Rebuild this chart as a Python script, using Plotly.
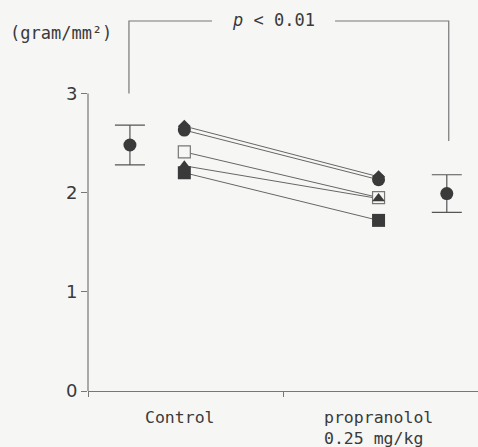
import plotly.graph_objects as go

# ---- data ----
groups = ["Control", "propranolol<br>0.25 mg/kg"]
group_x = [0.47, 1.49]          # category label positions
indiv_x = [0.494, 1.49]         # individual animals
mean_x = [0.215, 1.84]          # group means

subjects = {
    "diamond":     [2.67, 2.16],
    "circle":      [2.63, 2.13],
    "square-open": [2.41, 1.95],
    "triangle-up": [2.27, 1.94],
    "square":      [2.20, 1.72],
}
means = [2.48, 1.99]
sds = [0.20, 0.19]

y_ticks = [0, 1, 2, 3]
y_unit = "(gram/mm²)"
p_text = "<i>p</i> < 0.01"

# bracket geometry (data units)
br_left_x, br_right_x = 0.21, 1.85
br_top = 3.73
br_left_bottom, br_right_bottom = 3.0, 2.52
br_gap = (0.636, 1.267)

ink = "#3a3a3a"
line_col = "#666666"
bg = "#f6f6f4"
font_fam = "DejaVu Sans Mono"

fig = go.Figure()

# individual lines
for sym, vals in subjects.items():
    fig.add_trace(go.Scatter(
        x=indiv_x, y=vals, mode="lines",
        line=dict(color=line_col, width=1), showlegend=False, hoverinfo="skip"))

# individual markers
for sym, vals in subjects.items():
    if sym == "square-open":
        mk = dict(symbol="square", size=12, color=bg,
                  line=dict(color="#777777", width=1.2))
    elif sym == "triangle-up":
        mk = dict(symbol="triangle-up", size=11, color=ink, line=dict(width=0))
    elif sym == "diamond":
        mk = dict(symbol="diamond", size=10, color=ink, line=dict(width=0))
    else:
        mk = dict(symbol=sym, size=13, color=ink, line=dict(width=0))
    fig.add_trace(go.Scatter(
        x=indiv_x, y=vals, mode="markers", marker=mk,
        showlegend=False, hoverinfo="skip", cliponaxis=False))

# means with SD
fig.add_trace(go.Scatter(
    x=mean_x, y=means, mode="markers",
    marker=dict(symbol="circle", size=13, color=ink),
    error_y=dict(type="data", array=sds, visible=True, color="#555555",
                 thickness=1.2, width=15),
    showlegend=False, hoverinfo="skip"))

# significance bracket
fig.add_trace(go.Scatter(
    x=[br_left_x, br_left_x, br_gap[0], None, br_gap[1], br_right_x, br_right_x],
    y=[br_left_bottom, br_top, br_top, None, br_top, br_top, br_right_bottom],
    mode="lines", line=dict(color="#777777", width=1.2),
    showlegend=False, hoverinfo="skip"))

fig.add_annotation(x=(br_gap[0] + br_gap[1]) / 2, y=br_top, text=p_text,
                   showarrow=False, yanchor="middle", yshift=1,
                   font=dict(family=font_fam, size=17, color=ink))

# y-axis line only up to the top tick
fig.add_shape(type="line", xref="paper", yref="y", x0=0, x1=0,
              y0=0, y1=max(y_ticks), line=dict(color="#777777", width=1.2))

# unit label
fig.add_annotation(xref="paper", yref="paper", x=-0.205, y=1.0, text=y_unit,
                   showarrow=False, xanchor="left", yanchor="middle",
                   yshift=-14, font=dict(family=font_fam, size=17, color=ink))

# category labels
for gx, g in zip(group_x, groups):
    fig.add_annotation(x=gx, y=0, text=g, showarrow=False, yanchor="top",
                       yshift=-15, align="left",
                       font=dict(family=font_fam, size=16.5, color=ink))

fig.update_layout(
    width=478, height=447,
    margin=dict(l=88, r=0, t=19, b=56),
    paper_bgcolor=bg, plot_bgcolor=bg,
    xaxis=dict(range=[0, 2], showgrid=False, zeroline=False,
               showline=True, linecolor="#777777", linewidth=1.2,
               ticks="outside", tickvals=[0, 1, 2], ticklen=5,
               tickcolor="#777777", showticklabels=False),
    yaxis=dict(range=[0, 3.75], showgrid=False, zeroline=False,
               showline=False, ticks="outside", tickvals=y_ticks, ticklen=6,
               tickcolor="#777777",
               tickfont=dict(family="DejaVu Sans", size=18, color=ink)),
)

fig.write_html(
    "out.html",
    config={"displayModeBar": False},
    post_script="document.body.style.margin='0';"
                "document.body.style.overflow='hidden';"
                f"document.body.style.background='{bg}';",
)
